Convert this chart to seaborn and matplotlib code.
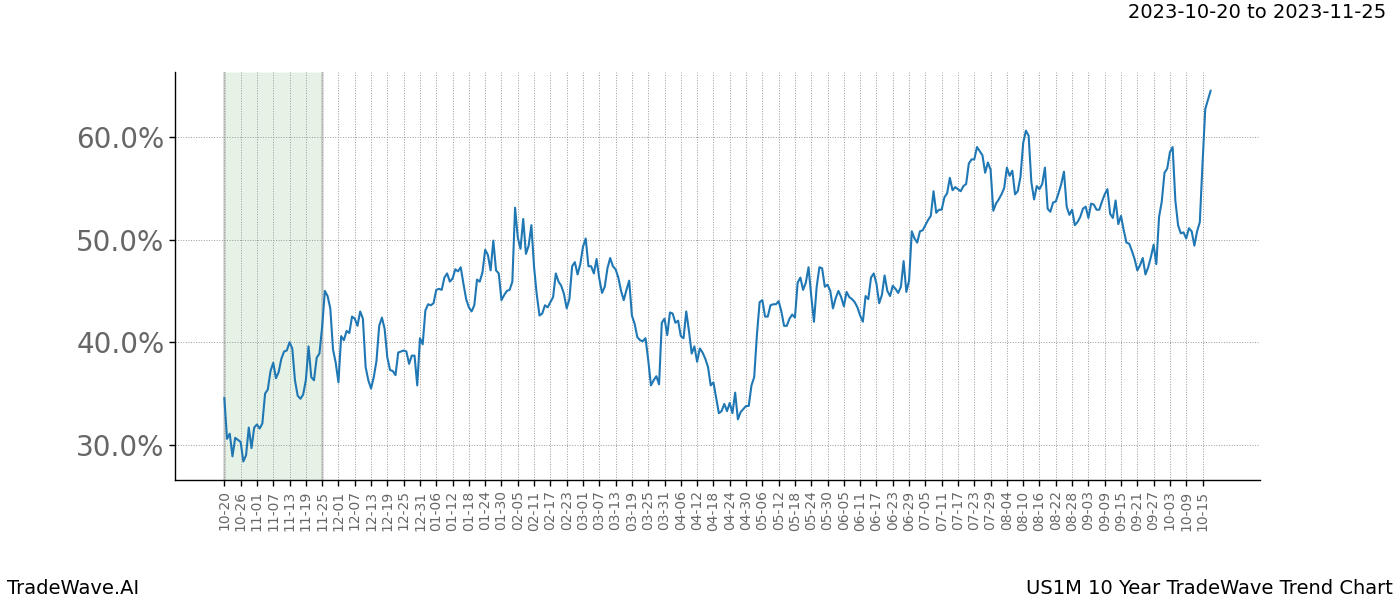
import matplotlib
matplotlib.use("Agg")
import matplotlib.pyplot as plt
import matplotlib.dates as mdates
from matplotlib.ticker import FuncFormatter
import seaborn as sns
import pandas as pd

start_date = "2022-10-20"
highlight_start = "2022-10-20"
highlight_end = "2022-11-25"
title_right = "2023-10-20 to 2023-11-25"
footer_left = "TradeWave.AI"
footer_right = "US1M 10 Year TradeWave Trend Chart"
y_ticks = [30, 40, 50, 60]

values = [
    34.6, 30.6, 31.1, 28.9, 30.7, 30.5, 30.3, 28.4, 29.0, 31.7, 29.7, 31.7, 32.0, 31.6, 32.1, 35.0,
    35.4, 37.2, 38.0, 36.5, 37.1, 38.4, 39.1, 39.2, 40.0, 39.4, 36.3, 34.8, 34.5, 34.9, 36.3, 39.6,
    36.6, 36.3, 38.5, 38.9,
    41.5, 45.0, 44.5, 43.3, 39.3, 38.0, 36.1, 40.6, 40.2, 41.1, 40.9, 42.5, 42.3, 41.6, 43.0, 42.3,
    37.6, 36.3, 35.5, 36.6, 38.2, 41.6, 42.4, 41.3, 38.5, 37.3, 37.2, 36.8, 39.0, 39.1, 39.2, 39.1,
    37.9, 38.7, 38.7, 35.8,
    40.4, 39.8, 43.1, 43.7, 43.6, 43.8, 45.1, 45.2, 45.1, 46.3, 46.7, 45.9, 46.2, 47.1, 46.9, 47.3,
    45.7, 44.2, 43.4, 43.0,
    43.6, 46.1, 45.9, 46.8, 49.0, 48.5, 47.0, 49.9, 47.0, 46.7, 44.1, 44.6, 45.0, 45.1, 45.9, 53.1,
    50.2, 49.1, 52.0, 48.6,
    49.4, 51.4, 47.3, 44.6, 42.6, 42.8, 43.6, 43.4, 43.9, 44.4, 46.7, 45.9, 45.5, 44.7, 43.3, 44.2,
    47.4, 47.8, 46.6, 47.6,
    49.3, 50.1, 47.4, 47.4, 46.7, 48.1, 46.2, 44.8, 45.4, 47.2, 48.2, 47.4, 47.1, 46.3, 45.0, 44.1,
    45.1, 46.0,
    42.6, 41.8, 40.5, 40.2, 40.1, 40.4, 38.3, 35.8, 36.3, 36.7, 35.9,
    41.9, 42.3, 40.7, 42.9, 42.8, 41.9, 42.1, 40.6, 40.4, 43.0, 41.1,
    38.9, 39.6, 38.1, 39.4, 39.0, 38.4, 37.6, 35.8, 36.1,
    34.6, 33.1, 33.3, 34.0, 33.3, 34.1, 33.1, 35.1, 32.5,
    33.2, 33.5, 33.8, 33.8, 35.8, 36.6, 40.7, 43.9,
    44.1, 42.5, 42.5, 43.6, 43.7, 43.7, 44.0, 43.0, 41.6, 41.6, 42.3, 42.7, 42.4,
    45.8, 46.3, 45.1, 45.8, 47.3,
    44.5, 42.0, 45.4, 47.3, 47.2, 45.4, 45.6, 45.0,
    43.3, 44.3, 45.0, 44.4, 43.5, 44.9, 44.4, 44.2, 43.9, 43.4, 42.6, 42.0,
    44.5, 44.2, 46.3, 46.7, 45.7, 43.8, 44.6, 46.5, 45.0, 44.5, 45.5, 45.2, 44.8, 45.4, 47.9,
    44.9, 46.0, 50.8, 50.1, 49.7, 50.8, 50.9, 51.4, 51.9,
    52.3, 54.7, 52.6, 52.9, 52.9, 54.1, 54.5, 56.0, 54.8, 55.1, 54.9, 54.7, 55.2, 55.4, 57.4, 57.8,
    57.8, 59.0, 58.6, 58.2, 56.5, 57.5, 56.8, 52.8, 53.5, 53.9, 54.4, 55.0, 57.0, 56.2, 56.7, 54.4,
    54.7, 56.1, 59.4, 60.6, 60.1, 55.6, 53.9, 55.2, 54.9, 55.4, 57.0, 53.0, 52.7, 53.6, 53.7, 54.5,
    55.4, 56.6, 53.2, 52.4, 52.9, 51.4, 51.7, 52.2, 53.0, 53.2, 52.1, 53.5, 53.4, 52.9, 52.9, 53.7,
    54.4, 54.9, 52.5, 52.1, 53.8, 51.5, 52.3, 50.9, 49.7, 49.6, 48.9, 48.1, 47.0, 47.5, 48.2, 46.6,
    47.3, 48.3, 49.5, 47.6, 52.2, 53.7, 56.5, 56.9, 58.5, 59.0, 53.8, 51.4, 50.6, 50.7, 50.1, 51.1,
    50.8, 49.4, 50.8, 51.7, 57.4, 62.7, 63.6, 64.5,
]

dates = pd.date_range(start_date, periods=len(values), freq="D")
df = pd.DataFrame({"date": dates, "value": values})

sns.set_style("white")
fig, ax = plt.subplots(figsize=(14, 6), dpi=100)
fig.subplots_adjust(left=0.125, right=0.9, top=0.88, bottom=0.2)

ax.axvspan(pd.Timestamp(highlight_start), pd.Timestamp(highlight_end),
           facecolor="green", alpha=0.1, zorder=0)
for d in (highlight_start, highlight_end):
    ax.axvline(pd.Timestamp(d), color="gray", alpha=0.3, linewidth=2, zorder=0)

sns.lineplot(data=df, x="date", y="value", ax=ax, color="#1f77b4", linewidth=1.5)

tick_dates = pd.date_range(start_date, dates[-1], freq="6D")
ax.set_xticks(tick_dates)
ax.xaxis.set_major_formatter(mdates.DateFormatter("%m-%d"))
ax.tick_params(axis="x", labelrotation=90, labelsize=10, labelcolor="#666666",
               length=4, width=1, color="black", bottom=True)
ax.set_yticks(y_ticks)
ax.yaxis.set_major_formatter(FuncFormatter(lambda v, p: f"{v:.1f}%"))
ax.tick_params(axis="y", labelsize=20, labelcolor="#666666", length=4, width=1,
               color="black", left=True)

ax.grid(True, color="#999999", linestyle=":", linewidth=0.7)
ax.set_xlabel("")
ax.set_ylabel("")
for s in ("top", "right"):
    ax.spines[s].set_visible(False)
for s in ("left", "bottom"):
    ax.spines[s].set_color("black")
    ax.spines[s].set_linewidth(1)

fig.text(0.99, 0.98, title_right, ha="right", va="center", fontsize=14, color="black")
fig.text(0.005, 0.02, footer_left, ha="left", va="center", fontsize=14, color="black")
fig.text(0.995, 0.02, footer_right, ha="right", va="center", fontsize=14, color="black")

fig.savefig("out.png", dpi=100)
